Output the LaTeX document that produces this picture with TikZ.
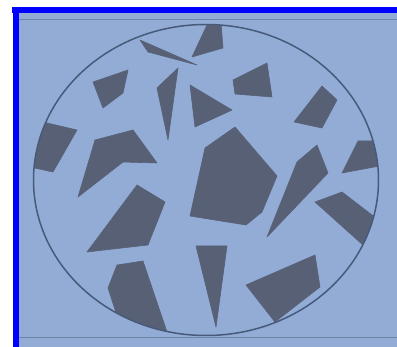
\documentclass[tikz,border=0pt]{standalone}
\definecolor{bgblue}{RGB}{146,172,214}
\definecolor{shard}{RGB}{88,96,118}
\definecolor{rim}{RGB}{72,90,122}
\definecolor{rule}{RGB}{112,132,168}
\definecolor{frame}{RGB}{0,0,255}
\tikzset{
  piece/.style={fill=shard, draw=shard, line width=0.6pt, line join=round},
}
\begin{document}
\begin{tikzpicture}[x=1pt,y=-1pt]
\useasboundingbox (0,0) rectangle (397,347);
\fill[white] (0,0) rectangle (397,347);
\fill[bgblue] (13,7) rectangle (397,347);
% frame bands
\fill[frame] (12,7) rectangle (397,12.7);
\fill[frame] (13,7) rectangle (19,347);
% thin rules
\draw[rule, line width=1pt] (19,19.3) -- (397,19.3);
\draw[rule, line width=1pt] (19,337.7) -- (397,337.7);
% pieces
\begin{scope}
\clip (206,180) ellipse [x radius=172.5, y radius=155.5];
\fill[piece] (140,40) -- (148,52) -- (197,65) -- cycle;
\fill[piece] (207,25) -- (221,23) -- (223,48) -- (192,57) -- cycle;
\fill[piece] (93,82) -- (128,70) -- (123,93) -- (103,108) -- cycle;
\fill[piece] (157,88) -- (178,68) -- (168,140) -- cycle;
\fill[piece] (190,85) -- (232,110) -- (195,127) -- cycle;
\fill[piece] (233,80) -- (267,63) -- (272,97) -- (235,94) -- cycle;
\fill[piece] (294,122) -- (322,86) -- (337,100) -- (322,128) -- cycle;
\fill[piece] (47,123) -- (77,130) -- (53,172) -- (30,167) -- (30,123) -- cycle;
\fill[piece] (95,140) -- (133,130) -- (157,163) -- (123,162) -- (78,197) -- cycle;
\fill[piece] (205,148) -- (235,127) -- (277,176) -- (262,212) -- (246,225) -- (190,216) -- cycle;
\fill[piece] (342,173) -- (358,141) -- (385,141) -- (385,165) -- cycle;
\fill[piece] (297,162) -- (317,145) -- (328,173) -- (267,237) -- cycle;
\fill[piece] (315,202) -- (342,192) -- (385,225) -- (363,245) -- cycle;
\fill[piece] (87,252) -- (137,185) -- (165,202) -- (148,245) -- cycle;
\fill[piece] (117,265) -- (143,261) -- (167,332) -- (120,325) -- (108,288) -- cycle;
\fill[piece] (196,246) -- (227,246) -- (216,327) -- cycle;
\fill[piece] (246,285) -- (315,255) -- (320,287) -- (275,322) -- cycle;
\end{scope}
% rim
\draw[rim, line width=1.5pt] (206,180) ellipse [x radius=172.5, y radius=155.5];
\end{tikzpicture}
\end{document}
